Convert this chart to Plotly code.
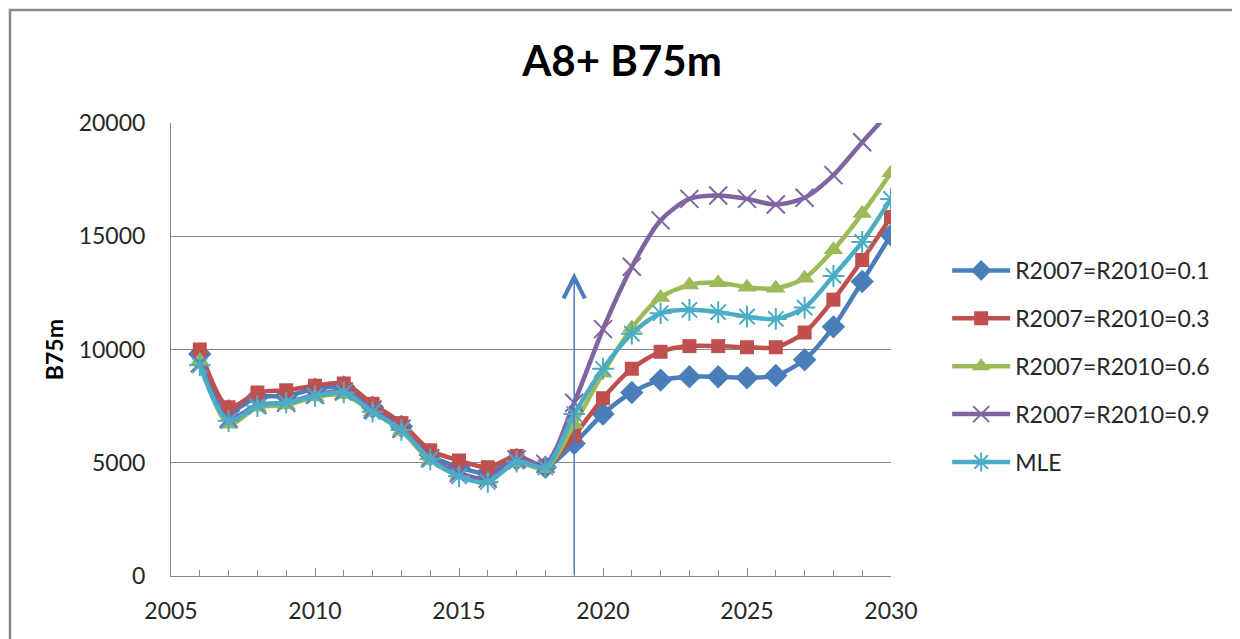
import plotly.graph_objects as go

years = list(range(2006, 2031))

r01 = [9800, 7300, 7900, 7950, 8250, 8350, 7450, 6600, 5350, 4800, 4550, 5150, 4800,
       5850, 7150, 8100, 8650, 8800, 8800, 8750, 8850, 9550, 11000, 13000, 15050]
r03 = [10000, 7450, 8100, 8200, 8400, 8500, 7600, 6750, 5550, 5100, 4800, 5300, 4850,
       6200, 7850, 9150, 9900, 10150, 10150, 10100, 10100, 10750, 12200, 13950, 15850]
r06 = [9500, 6700, 7450, 7550, 7900, 8000, 7250, 6400, 5100, 4450, 4200, 5000, 4750,
       6700, 8950, 10950, 12300, 12850, 12950, 12750, 12700, 13150, 14400, 16000, 17800]
r09 = [9400, 6950, 7550, 7650, 8000, 8150, 7350, 6500, 5200, 4550, 4300, 5150, 4950,
       7650, 10900, 13650, 15700, 16650, 16800, 16650, 16400, 16700, 17700, 19150, 20550]
mle = [9300, 6850, 7500, 7650, 7950, 8100, 7250, 6450, 5150, 4400, 4150, 5050, 4800,
       7150, 9150, 10700, 11600, 11750, 11650, 11450, 11350, 11850, 13250, 14750, 16650]

series_names = ["R2007=R2010=0.1", "R2007=R2010=0.3", "R2007=R2010=0.6",
                "R2007=R2010=0.9", "MLE"]
series_values = [r01, r03, r06, r09, mle]
colors = ["#4A7EBB", "#C0504D", "#9BBB59", "#8064A2", "#4BACC6"]
symbols = ["diamond", "square", "triangle-up", "x-thin", "asterisk"]
sizes = [18, 14, 17, 18, 18]

title_text = "A8+ B75m"
y_title = "B75m"
arrow_year = 2019
arrow_top = 13400

FONT = "Lato, Liberation Sans, sans-serif"

fig = go.Figure()
for i, (name, vals) in enumerate(zip(series_names, series_values)):
    line_marker = symbols[i] in ("x-thin", "asterisk")
    fig.add_trace(go.Scatter(
        x=years, y=vals, name=name, mode="lines+markers",
        legendgroup=f"g{i}",
        line=dict(color=colors[i], width=4.5, shape="spline", smoothing=0.8),
        marker=dict(symbol=symbols[i], size=sizes[i], color=colors[i],
                    line=dict(color=colors[i], width=2 if line_marker else 0)),
    ))

fig.update_layout(
    width=1232, height=631,
    margin=dict(l=163, r=349, t=115, b=63, autoexpand=False),
    paper_bgcolor="white", plot_bgcolor="white",
    font=dict(family=FONT, size=23, color="#262626"),
    title=dict(text=f"<b>{title_text}</b>", x=(622 - 8) / 1232, xref="container",
               xanchor="center", y=1 - 53 / 631, yref="container", yanchor="middle",
               font=dict(family=FONT, size=42, color="black")),
    showlegend=True,
    legend=dict(x=1.078, xanchor="left", y=0.722, yanchor="top",
                font=dict(family=FONT, size=23, color="#262626"),
                tracegroupgap=15, itemwidth=58, bgcolor="rgba(0,0,0,0)"),
    xaxis=dict(range=[2005, 2030], dtick=5, tick0=2005, showgrid=False,
               showline=True, linecolor="#868686", linewidth=1,
               ticks="inside", ticklen=8, tickcolor="#868686",
               minor=dict(dtick=1, ticks="inside", ticklen=6, tickcolor="#868686"),
               ticklabelstandoff=14, zeroline=False, tickformat="d"),
    yaxis=dict(range=[0, 20000], dtick=5000, showgrid=True, gridcolor="#868686",
               gridwidth=1, showline=True, linecolor="#868686", linewidth=1,
               ticks="inside", ticklen=6, tickcolor="#868686",
               ticklabelstandoff=20, zeroline=False, tickformat="d"),
)

fig.add_annotation(x=arrow_year, y=arrow_top, ax=arrow_year, ay=0,
                   xref="x", yref="y", axref="x", ayref="y",
                   showarrow=True, arrowhead=5, arrowsize=2.8, arrowwidth=1.5,
                   arrowcolor="#4A7EBB", standoff=0, startstandoff=0, text="")

fig.add_annotation(text=f"<b>{y_title}</b>", x=-0.163, y=0.5, xref="paper", yref="paper",
                   xanchor="center", yanchor="middle", textangle=-90, showarrow=False,
                   font=dict(family=FONT, size=23, color="black"))

fig.add_shape(type="rect", xref="paper", yref="paper",
              x0=-0.2236, x1=1.4806, y0=-0.25, y1=1.2494,
              line=dict(color="#888888", width=2.5), layer="below")

fig.write_html("out.html")
